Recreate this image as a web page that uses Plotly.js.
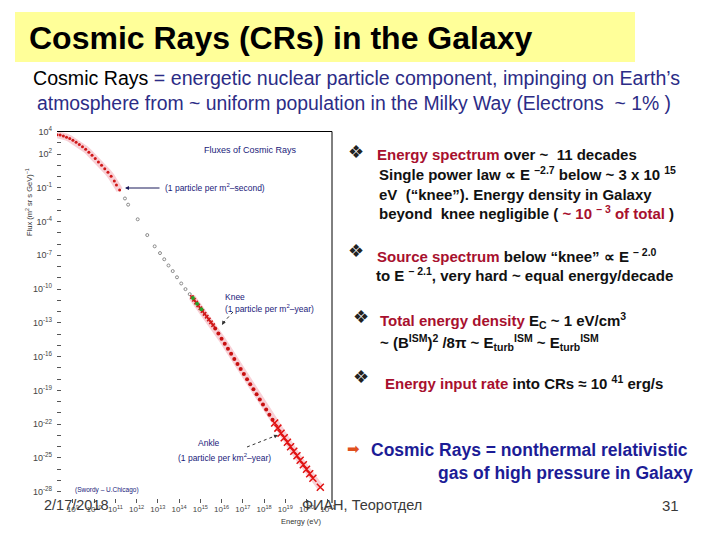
<!DOCTYPE html>
<html><head><meta charset="utf-8">
<script src="https://cdn.plot.ly/plotly-3.0.1.min.js"></script>
<style>html,body{margin:0;padding:0;background:#fff;}#chart{width:720px;height:540px;}</style>
</head><body><div id="chart"></div>
<script>
// ---- data (log10 of energy in eV, log10 of flux in (m^2 sr s GeV)^-1) ----
const lowE_logE   = [8.25, 8.4, 8.55, 8.7, 8.85, 9.0, 9.15, 9.3, 9.45, 9.6, 9.75, 9.9, 10.05, 10.2, 10.35, 10.5, 10.65, 10.8, 10.95, 11.05, 11.2];
const lowE_logF   = [3.72, 3.68, 3.6, 3.5, 3.38, 3.22, 3.05, 2.85, 2.65, 2.42, 2.15, 1.88, 1.6, 1.3, 1.0, 0.7, 0.38, 0.02, -0.4, -0.75, -1.2];
const midE_logE   = [11.45, 11.6, 12.05, 12.5, 12.85, 13.1, 13.3, 13.5, 13.7, 13.9, 14.1, 14.3, 14.5];
const midE_logF   = [-1.95, -2.5, -3.8, -5.2, -6.2, -6.8, -7.35, -7.9, -8.4, -8.95, -9.5, -10.0, -10.45];
const knee_logE   = [14.6, 14.7, 14.8, 14.9, 15.0, 15.1, 15.2, 15.3, 15.4, 15.5, 15.6];
const knee_logF   = [-10.7, -10.95, -11.2, -11.45, -11.7, -11.95, -12.2, -12.45, -12.7, -12.95, -13.2];
const kneeG_logE  = [14.65, 14.85, 15.05];
const kneeG_logF  = [-10.8, -11.3, -11.8];
const high_logE   = [15.7, 15.85, 16.0, 16.15, 16.3, 16.45, 16.6, 16.75, 16.9, 17.05, 17.2, 17.35, 17.5, 17.65, 17.8, 17.95, 18.1, 18.25, 18.4];
const high_logF   = [-13.5, -13.95, -14.4, -14.85, -15.3, -15.75, -16.2, -16.65, -17.1, -17.55, -18.0, -18.45, -18.9, -19.35, -19.8, -20.25, -20.7, -21.15, -21.6];
const uhe_logE    = [18.5, 18.65, 18.8, 18.95, 19.1, 19.25, 19.4, 19.55, 19.7, 19.85, 20.0, 20.15, 20.3, 20.65];
const uhe_logF    = [-21.9, -22.35, -22.8, -23.2, -23.6, -24.0, -24.4, -24.8, -25.2, -25.6, -26.0, -26.4, -26.8, -27.6];
const xTickExp    = [9,10,11,12,13,14,15,16,17,18,19,20,21];
const yLabelExp   = [4, 2, -1, -4, -7, -10, -13, -16, -19, -22, -25, -28];

const p10 = a => a.map(v => Math.pow(10, v));
const W = 720, H = 540;
const X = x => x / W, Y = y => 1 - y / H;

const traces = [
  {x: p10(lowE_logE), y: p10(lowE_logF), mode:'lines', line:{color:'rgba(240,150,165,0.45)', width:7}, hoverinfo:'skip'},
  {x: p10(knee_logE.concat(high_logE, uhe_logE)), y: p10(knee_logF.concat(high_logF, uhe_logF)), mode:'lines', line:{color:'rgba(240,150,165,0.45)', width:7}, hoverinfo:'skip'},
  {x: p10(lowE_logE), y: p10(lowE_logF), mode:'markers', marker:{color:'#d01818', size:3, symbol:'circle'}},
  {x: p10(midE_logE), y: p10(midE_logF), mode:'markers', marker:{color:'#8a8a8a', size:3, symbol:'circle-open', line:{width:1}}},
  {x: p10(knee_logE), y: p10(knee_logF), mode:'markers', marker:{color:'#d01818', size:4, symbol:'x'}},
  {x: p10(kneeG_logE), y: p10(kneeG_logF), mode:'markers', marker:{color:'#2aa02a', size:4, symbol:'circle'}},
  {x: p10(high_logE), y: p10(high_logF), mode:'markers', marker:{color:'#c81010', size:4, symbol:'circle'}},
  {x: p10(uhe_logE), y: p10(uhe_logF), mode:'markers', marker:{color:'#e01010', size:7, symbol:'x-thin', line:{color:'#e01010', width:1.5}}}
];

const FAM = 'Liberation Sans, Arial, sans-serif';
const txt = (x, y, text, o = {}) => Object.assign({xref:'paper', yref:'paper', x:X(x), y:Y(y), text:text, showarrow:false, xanchor:'left', yanchor:'middle', font:{family:FAM, size:14, color:'#000'}}, o);
const RED = '#A8102E';
const bodyFont = {family:FAM, size:15, color:'#111'};
const chartFont = (s, c) => ({family:FAM, size:s, color:c || '#1a1a7a'});
const bullet = (x, y) => txt(x, y, '\u2756', {font:{family:'DejaVu Sans', size:18, color:'#222'}, xanchor:'center'});

const annotations = [
  txt(27, 38, '<b>Cosmic Rays (CRs) in the Galaxy</b>', {font:{family:FAM, size:32, color:'#000'}}),
  txt(31, 78, '<span style="color:#000">Cosmic Rays</span> = energetic nuclear particle component, impinging on Earth\u2019s', {font:{family:FAM, size:19.6, color:'#2c2c86'}}),
  txt(35, 103, 'atmosphere from ~ uniform population in the Milky Way (Electrons  ~ 1% )', {font:{family:FAM, size:19.4, color:'#2c2c86'}}),
  // chart texts
  txt(202, 150, 'Fluxes of Cosmic Rays', {font:chartFont(9)}),
  txt(163, 188, '(1 particle per m<sup>2</sup>\u2013second)', {font:chartFont(8.5)}),
  txt(223, 297, 'Knee', {font:chartFont(8.5)}),
  txt(223, 308, '(1 particle per m<sup>2</sup>\u2013year)', {font:chartFont(8.5)}),
  txt(196, 443, 'Ankle', {font:chartFont(8.5)}),
  txt(176, 457, '(1 particle per km<sup>2</sup>\u2013year)', {font:chartFont(8.5)}),
  txt(73, 490, '(Swordy \u2013 U.Chicago)', {font:chartFont(6.5)}),
  txt(301, 521, 'Energy (eV)', {font:chartFont(7.5, '#333'), xanchor:'center'}),
  {xref:'paper', yref:'paper', x:X(22), y:Y(166), text:'Flux (m<sup>2</sup> sr s GeV)<sup>\u22121</sup>', showarrow:false, textangle:-90, font:chartFont(7.5, '#333')},
  // arrows in chart
  {xref:'paper', yref:'paper', x:X(125), y:Y(188), ax:36, ay:0, text:'', showarrow:true, arrowhead:2, arrowsize:0.8, arrowwidth:1, arrowcolor:'#1a1a5a'},
  {xref:'paper', yref:'paper', x:X(222), y:Y(325), ax:3, ay:-5, text:'', showarrow:true, arrowhead:2, arrowsize:0.8, arrowwidth:1, arrowcolor:'#333'},
  {xref:'paper', yref:'paper', x:X(278), y:Y(435), ax:-5, ay:2, text:'', showarrow:true, arrowhead:2, arrowsize:0.8, arrowwidth:1, arrowcolor:'#333'},
  // right column
  bullet(356, 152),
  txt(375, 155, '<b><span style="color:' + RED + '">Energy spectrum</span> over ~  11 decades</b>', {font:bodyFont}),
  txt(377, 174, '<b>Single power law \u221d E <sup>\u20132.7</sup> below ~ 3 x 10 <sup>15</sup></b>', {font:bodyFont}),
  txt(377, 194, '<b>eV  (\u201cknee\u201d). Energy density in Galaxy</b>', {font:bodyFont}),
  txt(377, 213, '<b>beyond  knee negligible ( <span style="color:' + RED + '">~ 10 <sup>\u2013 3</sup> of total</span> )</b>', {font:bodyFont}),
  bullet(356, 250),
  txt(375, 255, '<b><span style="color:' + RED + '">Source spectrum</span> below \u201cknee\u201d \u221d E <sup>\u2013 2.0</sup></b>', {font:bodyFont}),
  txt(374, 274, '<b>to E <sup>\u2013 2.1</sup>, very hard ~ equal energy/decade</b>', {font:bodyFont}),
  bullet(361, 316),
  txt(378, 320, '<b><span style="color:' + RED + '">Total energy density</span> E<sub>C</sub> ~ 1 eV/cm<sup>3</sup></b>', {font:bodyFont}),
  txt(378, 342, '<b>~ (B<sup>ISM</sup>)<sup>2</sup> /8\u03c0 ~ E<sub>turb</sub><sup>ISM</sup> ~ E<sub>turb</sub><sup>ISM</sup></b>', {font:bodyFont}),
  bullet(361, 376),
  txt(383, 382, '<b><span style="color:' + RED + '">Energy input rate</span> into CRs \u2248 10 <sup>41</sup> erg/s</b>', {font:bodyFont}),
  txt(353, 449, '\u27a1', {font:{family:'DejaVu Sans', size:15, color:'#e0501e'}, xanchor:'center'}),
  txt(369, 450, '<b>Cosmic Rays = nonthermal relativistic</b>', {font:{family:FAM, size:17.5, color:'#1c1c96'}}),
  txt(695, 473, '<b>gas of high pressure in Galaxy</b>', {font:{family:FAM, size:17.5, color:'#1c1c96'}, xanchor:'right'}),
  // footer
  txt(42, 505, '2/17/2018', {font:{family:FAM, size:14.5, color:'#3a3a3a'}}),
  txt(300, 505, '\u0424\u0418\u0410\u041d, \u0422\u0435\u043e\u0440\u043e\u0442\u0434\u0435\u043b', {font:{family:FAM, size:14.5, color:'#3a3a3a'}}),
  txt(670, 505, '31', {font:{family:FAM, size:15, color:'#3a3a3a'}, xanchor:'center'})
];

const shapes = [
  {type:'rect', xref:'paper', yref:'paper', x0:X(15), x1:X(635), y0:Y(62), y1:Y(12), fillcolor:'#ffff99', line:{width:0}, layer:'below'},
  {type:'line', xref:'paper', yref:'paper', x0:X(57), x1:X(332), y0:Y(131.5), y1:Y(131.5), line:{color:'#000', width:1}},
  {type:'line', xref:'paper', yref:'paper', x0:X(332), x1:X(332), y0:Y(131.5), y1:Y(503), line:{color:'#000', width:1}},
  {type:'line', xref:'paper', yref:'paper', x0:X(233), x1:X(223), y0:Y(312), y1:Y(323), line:{color:'#333', width:1, dash:'dot'}},
  {type:'line', xref:'paper', yref:'paper', x0:X(247), x1:X(275), y0:Y(447), y1:Y(436), line:{color:'#333', width:1, dash:'dot'}}
];

const yTickVals = [], yTickText = [];
for (let e = -28; e <= 4; e++) { yTickVals.push(Math.pow(10, e)); yTickText.push(yLabelExp.includes(e) ? '10<sup>' + e + '</sup>' : ''); }

const layout = {
  width: W, height: H, margin:{l:0, r:0, t:0, b:0}, paper_bgcolor:'#fff', plot_bgcolor:'#fff', showlegend:false,
  xaxis:{type:'log', domain:[X(57), X(332)], range:[8.25, 21.2], showgrid:false, zeroline:false, showline:false,
         ticks:'inside', ticklen:4, tickcolor:'#555', tickvals:p10(xTickExp), ticktext:xTickExp.map(e => '10<sup>' + e + '</sup>'),
         tickfont:{family:FAM, size:8, color:'#444'}},
  yaxis:{type:'log', domain:[Y(503), Y(131.5)], range:[-29, 4], showgrid:false, zeroline:false, showline:false,
         ticks:'inside', ticklen:4, tickcolor:'#555', tickvals:yTickVals, ticktext:yTickText, ticklabelstandoff:4,
         tickfont:{family:FAM, size:9, color:'#444'}},
  annotations: annotations, shapes: shapes
};

Plotly.newPlot('chart', traces, layout, {displayModeBar:false, staticPlot:true});
</script></body></html>
